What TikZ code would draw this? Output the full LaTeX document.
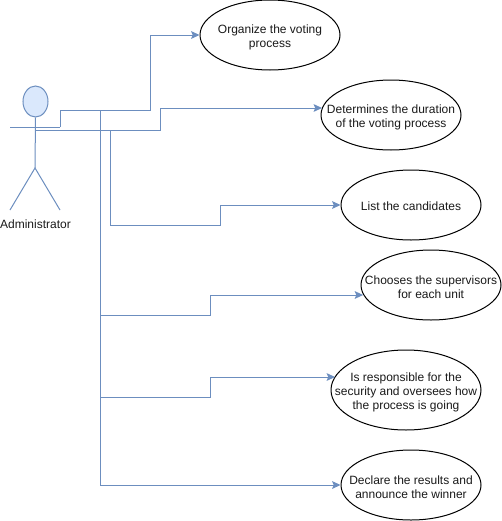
\documentclass[tikz,border=0pt]{standalone}
\usepackage{fontspec}
\setmainfont{Liberation Sans}
\usetikzlibrary{shapes.geometric,arrows.meta}
\newlength{\du}
\setlength{\du}{0.75pt}
\newcommand{\toppad}{\rule{0pt}{10pt}}
\definecolor{linkcolor}{HTML}{6C8EBF}
\definecolor{headcolor}{HTML}{DAE8FC}
\definecolor{textcolor}{HTML}{1A1A1A}
\tikzset{
  usecase/.style={draw=black,fill=white,ellipse,inner sep=-25pt,line width=0.75pt,align=center,text=textcolor,font=\fontsize{9}{10.5}\selectfont},
  link/.style={draw=linkcolor,line width=0.75pt,-{Stealth[length=6.3pt,width=5.8pt,inset=1.2pt]}},
  limb/.style={draw=linkcolor,line width=0.75pt},
}
\begin{document}
\begin{tikzpicture}
\pgftransformxscale{1.000000}
\pgftransformyscale{-1.000000}
\useasboundingbox (0\du,0\du) rectangle (501\du,521\du);
% actor
\node[draw=linkcolor,fill=headcolor,ellipse,inner sep=0pt,line width=0.75pt,minimum width=25\du,minimum height=31\du] (head) at (35.500000\du,101.500000\du){};
\coordinate (hip) at (35.000000\du,168.000000\du);
\coordinate (armleft) at (10.000000\du,127.000000\du);
\coordinate (armright) at (60.000000\du,127.000000\du);
\coordinate (footleft) at (10.000000\du,210.000000\du);
\coordinate (footright) at (60.000000\du,210.000000\du);
\coordinate (neck) at (35.000000\du,130.500000\du);
\node[inner sep=0pt,text=textcolor,font=\fontsize{9}{10.5}\selectfont] (admin) at (35.500000\du,224.500000\du){Administrator};
\draw[limb] (head.south) -- (hip);
\draw[limb] (armleft) -- (armright);
\draw[limb] (footleft) -- (hip) -- (footright);
% use cases
\node[usecase,minimum width=140\du,minimum height=70\du] (organize) at (270.000000\du,35.000000\du){\toppad Organize the voting\\process};
\node[usecase,minimum width=140\du,minimum height=70\du] (duration) at (391.000000\du,115.000000\du){\toppad Determines the duration\\of the voting process};
\node[usecase,minimum width=140\du,minimum height=70\du] (candidates) at (411.000000\du,205.000000\du){\rule{0pt}{8.8pt}List the candidates};
\node[usecase,minimum width=140\du,minimum height=70\du] (supervisors) at (431.000000\du,285.000000\du){\toppad Chooses the supervisors\\for each unit};
\node[usecase,minimum width=150\du,minimum height=80\du] (security) at (406.000000\du,390.000000\du){\toppad Is responsible for the\\security and oversees how\\the process is going};
\node[usecase,minimum width=140\du,minimum height=70\du] (results) at (411.000000\du,485.000000\du){\toppad Declare the results and\\announce the winner};
% points on the wires
\coordinate (upper) at (100.000000\du,110.000000\du);
\coordinate (lower) at (110.000000\du,130.500000\du);
\coordinate (tapfive) at (100.000000\du,397.000000\du);
\coordinate (tapsix) at (100.000000\du,485.000000\du);
\coordinate (bendtwo) at (160.000000\du,108.000000\du);
\coordinate (bendfour) at (210.000000\du,295.000000\du);
\coordinate (bendfive) at (210.000000\du,377.000000\du);
% connectors
\draw[link] (armright) -- (60.000000\du,110.000000\du) -- (150.000000\du,110.000000\du) -- (150.000000\du,35.000000\du) -- (organize.west);
\draw[link] (neck) -- (160.000000\du,130.500000\du) -- (bendtwo) -- (duration.174 |- bendtwo);
\draw[link] (lower) -- (110.000000\du,225.000000\du) -- (220.000000\du,225.000000\du) -- (220.000000\du,205.000000\du) -- (candidates.west);
\draw[limb] (upper) -- (tapsix);
\draw[link] (100.000000\du,315.000000\du) -- (210.000000\du,315.000000\du) -- (bendfour) -- (supervisors.188.5 |- bendfour);
\draw[link] (tapfive) -- (210.000000\du,397.000000\du) -- (bendfive) -- (security.169.6 |- bendfive);
\draw[link] (tapsix) -- (results.west);
\end{tikzpicture}
\end{document}
